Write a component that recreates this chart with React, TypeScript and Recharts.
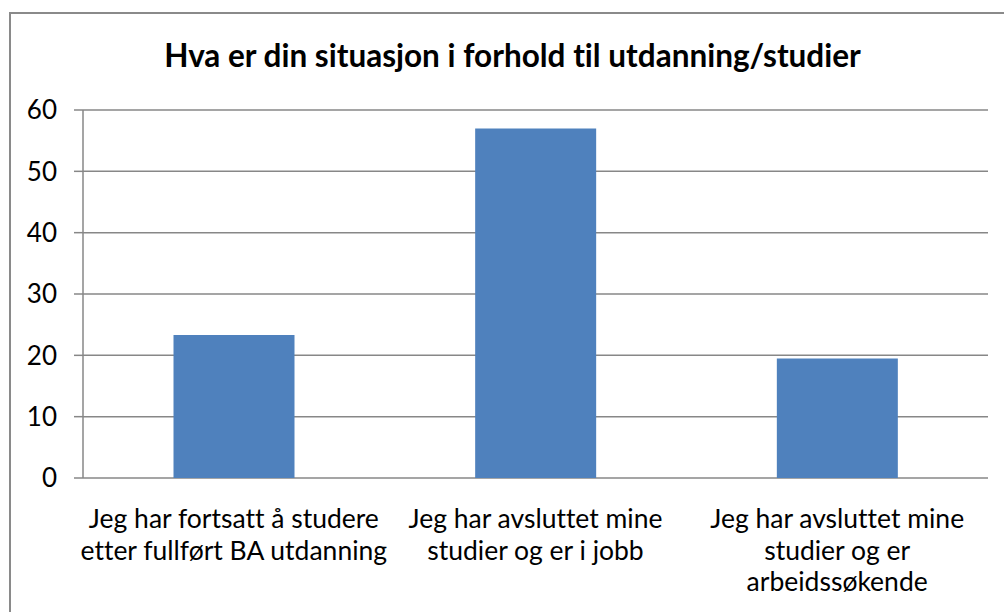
import React from 'react';
import { BarChart, Bar, XAxis, YAxis, CartesianGrid } from 'recharts';

const title = 'Hva er din situasjon i forhold til utdanning/studier';
const categories = [
  'Jeg har fortsatt å studere etter fullført BA utdanning',
  'Jeg har avsluttet mine studier og er i jobb',
  'Jeg har avsluttet mine studier og er arbeidssøkende',
];
const categoryLines = [
  ['Jeg har fortsatt å studere', 'etter fullført BA utdanning'],
  ['Jeg har avsluttet mine', 'studier og er i jobb'],
  ['Jeg har avsluttet mine', 'studier og er', 'arbeidssøkende'],
];
const values = [23.3, 57, 19.5];
const yTicks = [0, 10, 20, 30, 40, 50, 60];
const edgeTicks = [-0.5, 0.5, 1.5, 2.5];

const data = categories.map((name, i) => ({ name, value: values[i], idx: i }));

const FONT = 'Lato, "Liberation Sans", sans-serif';
const GRID = '#878787';

const CatTick = (props: any) => {
  const { x, y, payload } = props;
  const i = categories.indexOf(payload.value);
  const lines = categoryLines[i] || [String(payload.value)];
  return (
    <text
      x={x}
      y={y}
      textAnchor="middle"
      fontFamily={FONT}
      fontSize={26.5}
      fill="#000"
      style={{ fontVariantLigatures: 'none' }}
    >
      {lines.map((l, k) => (
        <tspan key={k} x={x} dy={k === 0 ? 50 : 31.5}>
          {l}
        </tspan>
      ))}
    </text>
  );
};

export default function App() {
  return (
    <div style={{ position: 'absolute', left: 0, top: 0, width: 1004, height: 612, overflow: 'hidden', background: '#fff' }}>
      <div
        style={{
          position: 'absolute',
          left: 9,
          top: 12,
          width: 1100,
          height: 700,
          border: '2px solid #8a8a8a',
        }}
      />
      <div
        style={{
          position: 'absolute',
          left: 0,
          top: 35,
          width: 1025,
          textAlign: 'center',
          fontFamily: FONT,
          fontWeight: 'bold',
          fontSize: 31.5,
          color: '#000',
          lineHeight: '40px',
          fontVariantLigatures: 'none',
        }}
      >
        {title}
      </div>
      <div style={{ position: 'absolute', left: 0, top: 0 }}>
        <BarChart
          width={1004}
          height={612}
          data={data}
          margin={{ top: 110, right: 16, bottom: 0, left: 0 }}
          barCategoryGap="30%"
        >
          <CartesianGrid
            xAxisId="cat"
            horizontal
            vertical={false}
            stroke={GRID}
            strokeWidth={1.5}
          />
          <XAxis
            xAxisId="edge"
            dataKey="idx"
            type="number"
            domain={[-0.5, 2.5]}
            ticks={edgeTicks}
            allowDataOverflow
            height={0}
            axisLine={{ stroke: GRID, strokeWidth: 1.5 }}
            tickLine={{ stroke: GRID, strokeWidth: 1.5 }}
            tickSize={9}
            tick={false}
          />
          <XAxis
            xAxisId="cat"
            dataKey="name"
            type="category"
            height={134}
            axisLine={false}
            tickLine={false}
            tickSize={0}
            tickMargin={0}
            interval={0}
            tick={<CatTick />}
          />
          <YAxis
            domain={[0, 60]}
            ticks={yTicks}
            width={83}
            axisLine={{ stroke: GRID, strokeWidth: 1.5 }}
            tickLine={{ stroke: GRID, strokeWidth: 1.5 }}
            tickSize={9}
            tickMargin={17}
            tick={{ fontFamily: FONT, fontSize: 26, fill: '#000' }}
          />
          <Bar xAxisId="cat" dataKey="value" fill="#4F81BD" isAnimationActive={false} />
        </BarChart>
      </div>
    </div>
  );
}
